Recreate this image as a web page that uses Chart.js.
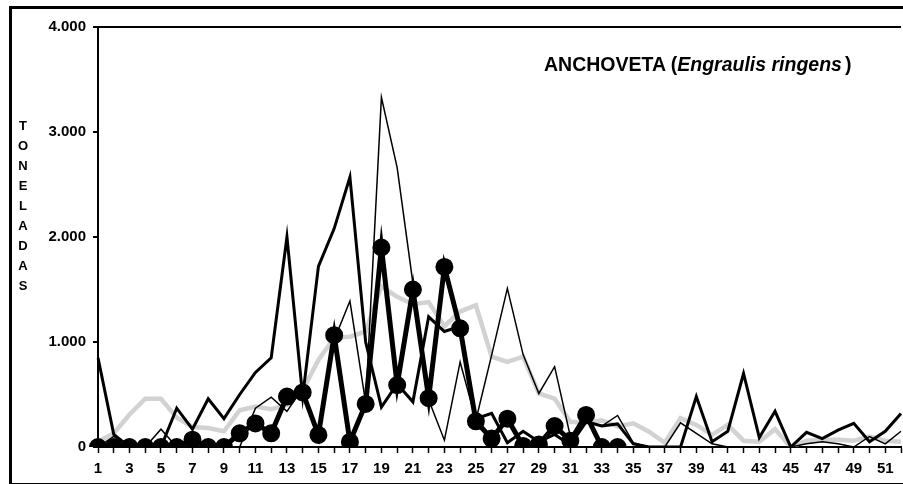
<!DOCTYPE html>
<html>
<head>
<meta charset="utf-8">
<script src="https://cdn.jsdelivr.net/npm/chart.js@4"></script>
<style>
  body { margin: 0; background: #fff; width: 903px; height: 484px; overflow: hidden; position: relative; font-family: Arial, "Liberation Sans", sans-serif; }
  #marco { position: absolute; left: 9px; top: 6px; width: 920px; height: 474px; border: 3px solid #000; }
  #grafico { position: absolute; left: 0; top: 0; }
  #titulo { position: absolute; left: 544px; top: 53px; font-size: 19.5px; font-weight: bold; white-space: nowrap; }
  #titulo span { margin-left: 3px; }
  #eixoY { position: absolute; left: 16px; top: 116px; width: 14px; font-size: 13px; font-weight: bold; line-height: 20px; text-align: center; word-break: break-all; }
</style>
</head>
<body>
<div id="marco"></div>
<canvas id="grafico" width="903" height="484"></canvas>
<div id="titulo">ANCHOVETA (<i>Engraulis ringens</i><span>)</span></div>
<div id="eixoY">TONELADAS</div>
<script>
const semanas = [];
for (let i = 1; i <= 52; i++) semanas.push(String(i));

// linha grossa com círculos
const serieA = [0, 0, 0, 0, 0, 0, 70, 0, 0, 130, 225, 130, 480, 520, 115, 1065, 50, 410, 1900, 590,
  1500, 465, 1715, 1130, 245, 80, 270, 10, 25, 200, 60, 305, 0, 0,
  null, null, null, null, null, null, null, null, null, null, null, null, null, null, null, null, null, null];

// linha média
const serieB = [850, 120, 0, 0, 0, 370, 170, 460, 270, 500, 710, 850, 2000, 480, 1720, 2080, 2570, 1000, 380, 600,
  430, 1240, 1100, 1150, 270, 320, 40, 150, 50, 120, 20, 240, 200, 220, 30, 0, 0, 0, 480, 50,
  150, 700, 90, 340, 0, 140, 80, 160, 225, 50, 150, 320];

// linha fina
const serieC = [0, 100, 0, 0, 170, 0, 0, 0, 0, 0, 370, 475, 340, 560, 80, 1020, 1390, 420, 3330, 2660,
  1560, 450, 65, 810, 255, 875, 1510, 880, 510, 765, 100, 250, 200, 300, 40, 0, 0, 230, 130, 30,
  0, 0, 0, 0, 0, 30, 50, 30, 0, 100, 30, 150];

// linha cinza
const serieD = [50, 130, 310, 460, 460, 280, 190, 180, 150, 350, 385, 360, 400, 540, 830, 1040, 1050, 1100, 1530, 1430,
  1360, 1380, 1150, 1290, 1350, 860, 810, 860, 510, 460, 240, 230, 255, 195, 225, 145, 40, 275, 210, 115,
  210, 60, 50, 170, 0, 60, 70, 70, 60, 100, 60, 50];

const yTicks = [0, 1000, 2000, 3000, 4000];

function formatarMilhar(v) {
  return v === 0 ? '0' : v.toLocaleString('de-DE');
}

const ctx = document.getElementById('grafico').getContext('2d');
new Chart(ctx, {
  type: 'line',
  data: {
    labels: semanas,
    datasets: [
      { data: serieA, borderColor: '#000', backgroundColor: '#000', borderWidth: 5, pointRadius: 6.5, pointHoverRadius: 6.5, tension: 0 },
      { data: serieB, borderColor: '#000', borderWidth: 3, pointRadius: 0, tension: 0 },
      { data: serieC, borderColor: '#000', borderWidth: 1.5, pointRadius: 0, tension: 0 },
      { data: serieD, borderColor: '#d2d2d2', borderWidth: 4.5, pointRadius: 0, tension: 0 }
    ]
  },
  options: {
    responsive: false,
    animation: false,
    events: [],
    layout: { autoPadding: false, padding: { top: 27, right: 2, bottom: 0, left: 0 } },
    plugins: { legend: { display: false }, tooltip: { enabled: false } },
    scales: {
      x: {
        offset: false,
        border: { display: true, color: '#000', width: 2 },
        // traço de 5px e o resto invisível, para afastar os rótulos sem padding
        grid: { drawOnChartArea: false, drawTicks: true, tickLength: 13, tickColor: '#000', tickWidth: 1.5, tickBorderDash: [5, 40] },
        ticks: {
          autoSkip: false, maxRotation: 0, padding: 0, color: '#000',
          font: { family: 'Arial', size: 15, weight: 'bold' },
          callback: (v, i) => (i % 2 === 0 ? semanas[i] : '')
        },
        afterFit: s => { s.height = 37; }
      },
      y: {
        min: 0, max: 4000,
        afterBuildTicks: s => { s.ticks = yTicks.map(v => ({ value: v })); },
        border: { display: true, color: '#000', width: 2 },
        grid: {
          drawOnChartArea: true, drawTicks: true, tickLength: 5, tickColor: '#000',
          color: c => (c.tick && c.tick.value === 4000 ? '#000' : 'rgba(0,0,0,0)'),
          lineWidth: 2
        },
        ticks: {
          padding: 7, color: '#000',
          font: { family: 'Arial', size: 15, weight: 'bold' },
          callback: v => formatarMilhar(v)
        },
        afterFit: s => { s.width = 98; }
      }
    }
  }
});
</script>
</body>
</html>
